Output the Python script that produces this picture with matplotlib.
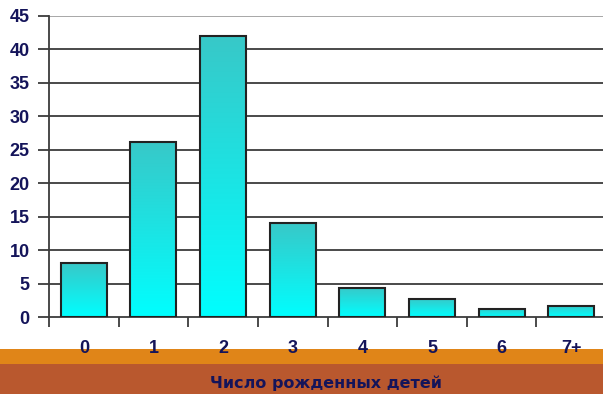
import numpy as np
import matplotlib.pyplot as plt
from matplotlib.colors import LinearSegmentedColormap

categories = ["0", "1", "2", "3", "4", "5", "6", "7+"]
values = [8.0, 26.2, 42.0, 14.0, 4.4, 2.7, 1.25, 1.7]
yticks = [0, 5, 10, 15, 20, 25, 30, 35, 40, 45]
xlabel = "Число рожденных детей"

navy = "#14145a"
grid_col = "#3c3c3c"

plt.rcParams['font.family'] = ['Liberation Sans', 'DejaVu Sans']

fig = plt.figure(figsize=(6.03, 3.94), dpi=100)

# coloured bands under the chart
band = fig.add_axes([0, 0, 1, 1], zorder=0)
band.set_xlim(0, 603)
band.set_ylim(394, 0)
band.axis("off")
band.axhspan(349, 364, color="#e08518", lw=0)
band.axhspan(364, 394, color="#b9582e", lw=0)
band.text(326, 383, xlabel, ha="center", va="center", fontsize=11.5,
          fontweight="bold", color=navy, family="DejaVu Sans")

ax = fig.add_axes([49 / 603, 77 / 394, 557 / 603, 301 / 394], zorder=1)
ax.patch.set_alpha(0)
x = np.arange(len(categories))

for y in yticks[1:]:
    ax.axhline(y, color="#a0a0a0" if y == 45 else grid_col, lw=1.3, zorder=1)

cmap = LinearSegmentedColormap.from_list("tealcyan", ["#00ffff", "#38c8c8"])
grad = np.linspace(0, 1, 256).reshape(-1, 1)
bars = ax.bar(x, values, width=0.66, facecolor="none", edgecolor="#222222",
              lw=1.5, zorder=3)
for b in bars:
    x0, w, h = b.get_x(), b.get_width(), b.get_height()
    im = ax.imshow(grad, cmap=cmap, origin="lower", aspect="auto",
                   extent=(x0, x0 + w, 0, h), zorder=2)
    im.set_clip_path(b)
ax.set_xlim(-0.5, len(categories) - 0.5)
ax.set_ylim(0, 45)

for s in ["top", "right"]:
    ax.spines[s].set_visible(False)
ax.spines["left"].set_color(grid_col)
ax.spines["left"].set_linewidth(1.3)
ax.spines["bottom"].set_color(grid_col)
ax.spines["bottom"].set_linewidth(1.3)

ax.set_yticks(yticks)
ax.set_yticklabels([str(v) for v in yticks], fontsize=13,
                   fontweight="bold", color=navy)
ax.tick_params(axis="y", length=8, width=1.3, color=grid_col, pad=6)

ax.set_xticks(np.arange(len(categories) + 1) - 0.5)
ax.set_xticklabels([])
ax.tick_params(axis="x", length=7, width=1.3, color=grid_col)
for xi, lab in zip(x, categories):
    ax.text(xi, -4.7, lab, ha="center", va="center", fontsize=13,
            fontweight="bold", color=navy, clip_on=False)

fig.savefig("out.png", dpi=100)
